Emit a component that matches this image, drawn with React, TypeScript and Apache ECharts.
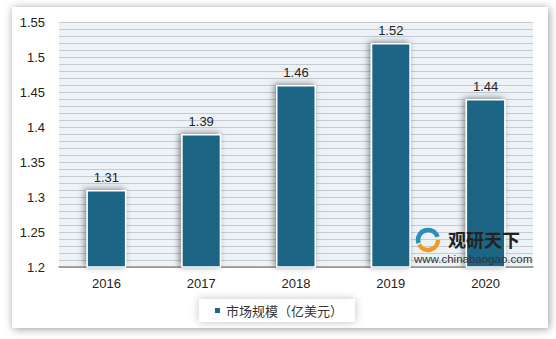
import React, { useEffect, useRef } from "react";
import * as echarts from "echarts";

const categories = ["2016", "2017", "2018", "2019", "2020"];
const values = [1.31, 1.39, 1.46, 1.52, 1.44];
const seriesName = "市场规模（亿美元）";
const yMin = 1.2;
const yMax = 1.55;
const yInterval = 0.05;

export default function App() {
  const ref = useRef<HTMLDivElement>(null);
  useEffect(() => {
    if (!ref.current) return;
    const chart = echarts.init(ref.current, undefined, { renderer: "svg" });
    chart.setOption({
      animation: false,
      backgroundColor: "#ffffff",
      textStyle: { fontFamily: "Liberation Sans, Arial, sans-serif" },
      graphic: [
        {
          type: "rect",
          z: -100,
          shape: { x: 12, y: 7, width: 536, height: 321 },
          style: {
            fill: "#ffffff",
            shadowBlur: 9,
            shadowColor: "rgba(0,0,0,0.4)",
            shadowOffsetX: 1,
            shadowOffsetY: 1,
          },
        },
        {
          type: "arc",
          z: 50,
          shape: { cx: 428, cy: 240, r: 10, startAngle: Math.PI * 0.9, endAngle: Math.PI * 1.9 },
          style: { stroke: "#2a8fb5", lineWidth: 4.5, fill: "none" },
        },
        {
          type: "arc",
          z: 50,
          shape: { cx: 428, cy: 240, r: 10, startAngle: Math.PI * 0.0, endAngle: Math.PI * 0.85 },
          style: { stroke: "#f29a1f", lineWidth: 4.5, fill: "none" },
        },
        {
          type: "text",
          z: 50,
          x: 448,
          y: 230,
          style: {
            text: "观研天下",
            font: "bold 18px 'Noto Sans CJK SC'",
            fill: "#222",
          },
        },
        {
          type: "text",
          z: 50,
          x: 414,
          y: 253,
          style: {
            text: "www.chinabaogao.com",
            font: "11.5px 'Liberation Sans', Arial, sans-serif",
            fill: "#333",
          },
        },
      ],
      grid: {
        left: 59,
        right: 23,
        top: 22,
        bottom: 72,
        show: true,
        backgroundColor: "#edf2f7",
        borderWidth: 0,
      },
      legend: {
        data: [seriesName],
        bottom: 17,
        left: "center",
        itemWidth: 7,
        itemHeight: 7,
        icon: "rect",
        backgroundColor: "#ffffff",
        shadowBlur: 8,
        shadowColor: "rgba(0,0,0,0.25)",
        padding: [5, 12, 5, 14],
        textStyle: { fontSize: 13, color: "#333", fontFamily: "Noto Sans CJK SC" },
      },
      xAxis: {
        type: "category",
        data: categories,
        axisLine: { lineStyle: { color: "#8c8c8c", width: 1.5 } },
        axisTick: { show: false },
        axisLabel: { fontSize: 13, color: "#222", margin: 10 },
      },
      yAxis: {
        type: "value",
        min: yMin,
        max: yMax,
        interval: yInterval,
        axisLine: { show: false },
        axisTick: { show: false },
        axisLabel: {
          fontSize: 13,
          color: "#222",
          margin: 14,
          formatter: (v: number) => String(parseFloat(v.toFixed(2))),
        },
        splitLine: { lineStyle: { color: "#c5cbd2", width: 1 } },
        minorTick: { show: false, splitNumber: 5 },
        minorSplitLine: { show: true, lineStyle: { color: "#c5cbd2", width: 1 } },
      },
      series: [
        {
          name: seriesName,
          type: "bar",
          data: values,
          barWidth: 40,
          itemStyle: {
            color: "#1a6585",
            borderColor: "#ffffff",
            borderWidth: 1.5,
            shadowBlur: 6,
            shadowColor: "rgba(0,0,0,0.45)",
            shadowOffsetX: -2,
            shadowOffsetY: -1,
          },
          label: {
            show: true,
            position: "top",
            fontSize: 13,
            color: "#222",
            distance: 6,
          },
        },
      ],
    });
    return () => chart.dispose();
  }, []);
  return (
    <div
      ref={ref}
      style={{ position: "fixed", left: 0, top: 0, width: 556, height: 339 }}
    />
  );
}
